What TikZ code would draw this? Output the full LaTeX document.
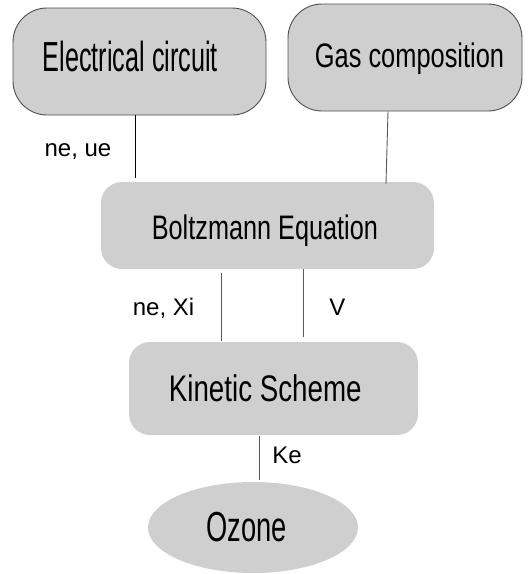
\documentclass[tikz,border=0pt]{standalone}
\usepackage{fontspec}
\setmainfont{Liberation Sans}
\usetikzlibrary{shapes.geometric}
\definecolor{boxfill}{RGB}{207,207,207}
\definecolor{edgegray}{RGB}{80,80,80}
\definecolor{linegray}{RGB}{90,90,90}
\tikzset{
  topbox/.style={draw=edgegray, line width=0.9pt, fill=boxfill, rectangle, rounded corners=34pt, inner sep=0pt},
  midbox/.style={fill=boxfill, rectangle, rounded corners=21pt, inner sep=0pt},
  ovalbox/.style={fill=boxfill, ellipse, inner sep=0pt},
  bigtext/.style={anchor=base, inner sep=0pt, text=black},
  smalltext/.style={anchor=base, inner sep=0pt, text=black, font=\fontsize{24}{28}\selectfont},
  conn/.style={draw=linegray, line width=0.9pt},
  connblack/.style={draw=black, line width=0.9pt}
}
\begin{document}
\begin{tikzpicture}[x=1pt,y=-1pt]
\useasboundingbox (0,0) rectangle (529,574);
% boxes
\node[topbox, minimum width=253pt, minimum height=107pt] (ec) at (139.5,61.5) {};
\node[topbox, minimum width=234pt, minimum height=107pt] (gc) at (405,57.5) {};
\node[midbox, minimum width=333pt, minimum height=87pt] (bz) at (267.5,225.5) {};
\node[midbox, minimum width=289pt, minimum height=93pt] (ks) at (273.5,388.5) {};
\node[ovalbox, minimum width=210pt, minimum height=91pt] (oz) at (253,527.5) {};
% box texts
\node[bigtext] (ect) at (130.4,71.7) {\scalebox{0.60}[1]{\fontsize{42}{50}\selectfont Electrical circuit}};
\node[bigtext] (gct) at (409.5,67.7) {\scalebox{0.747}[1]{\fontsize{34}{40}\selectfont Gas composition}};
\node[bigtext] (bzt) at (264.9,239.3) {\scalebox{0.743}[1]{\fontsize{34}{40}\selectfont Boltzmann Equation}};
\node[bigtext] (kst) at (265.3,401.7) {\scalebox{0.75}[1]{\fontsize{37}{44}\selectfont Kinetic Scheme}};
\node[bigtext] (ozt) at (246.7,541.7) {\scalebox{0.65}[1]{\fontsize{42}{50}\selectfont Ozone}};
% connectors
\draw[connblack] ([xshift=-4.5pt]ec.south) -- ([xshift=-4.5pt,yshift=4pt]ec.south |- bz.north);
\draw[conn] ([xshift=-17pt]gc.south) -- ([xshift=-19pt,yshift=-2pt]gc.south |- bz.north);
\draw[conn] ([xshift=-46.5pt,yshift=-4pt]bz.south) -- ([xshift=-46.5pt,yshift=1pt]bz.south |- ks.north);
\draw[conn] ([xshift=35.5pt]bz.south) -- ([xshift=35.5pt,yshift=5pt]bz.south |- ks.north);
\draw[conn] ([xshift=-14.5pt,yshift=-1pt]ks.south) -- ([xshift=6pt,yshift=2pt]oz.north);
% labels
\node[smalltext] (l1) at (78,156) {ne, ue};
\node[smalltext] (l2) at (163.5,315) {ne, Xi};
\node[smalltext] (l3) at (337.5,315) {V};
\node[smalltext] (l4) at (287,463.3) {Ke};
\end{tikzpicture}
\end{document}
